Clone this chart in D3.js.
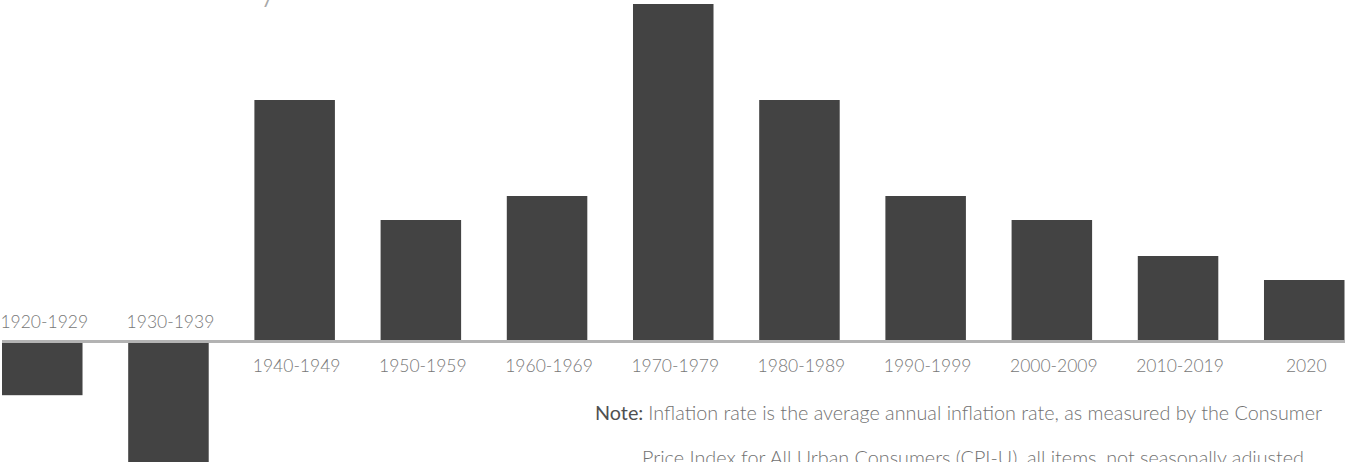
<!DOCTYPE html>
<html>
<head>
<meta charset="utf-8">
<script src="https://cdn.jsdelivr.net/npm/d3@7"></script>
<style>
  html, body { margin: 0; padding: 0; background: #fff; overflow: hidden; }
  svg { display: block; font-family: Lato, "Open Sans", sans-serif; }
</style>
</head>
<body>
<svg id="chart" width="1345" height="462"></svg>
<script>
// average annual inflation rate (%) by decade
const decades = ['1920-1929', '1930-1939', '1940-1949', '1950-1959', '1960-1969',
  '1970-1979', '1980-1989', '1990-1999', '2000-2009', '2010-2019', '2020'];
const rates = [-1.15, -2.8, 5.0, 2.5, 3.0, 7.0, 5.0, 3.0, 2.5, 1.75, 1.25];
const title = 'Inflation Rates by Decade';
const noteLines = [
  'Inflation rate is the average annual inflation rate, as measured by the Consumer',
  'Price Index for All Urban Consumers (CPI-U), all items, not seasonally adjusted.',
];

const width = 1345;
const svg = d3.select('#chart');

const x = d3.scaleBand()
  .domain(decades)
  .range([2, 1344.5])
  .paddingInner(0.362)
  .paddingOuter(0);

const y = d3.scaleLinear()
  .domain([-2.5, 7])
  .range([460, 4]);

// title sits mostly above the visible area
svg.append('text')
  .attr('x', 1)
  .attr('y', 0.2)
  .attr('font-size', 37)
  .attr('font-weight', 300)
  .attr('fill', '#a8a8a8')
  .text(title);

svg.append('g')
  .selectAll('rect')
  .data(rates)
  .join('rect')
  .attr('x', (d, i) => x(decades[i]))
  .attr('width', x.bandwidth())
  .attr('y', d => y(Math.max(0, d)))
  .attr('height', d => Math.abs(y(d) - y(0)))
  .attr('fill', '#434343');

// zero line
svg.append('line')
  .attr('x1', 2)
  .attr('x2', width)
  .attr('y1', y(0) + 1.5)
  .attr('y2', y(0) + 1.5)
  .attr('stroke', '#b3b3b3')
  .attr('stroke-width', 3);

// labels: above the line for negative bars, below for positive
svg.append('g')
  .selectAll('text')
  .data(rates)
  .join('text')
  .attr('x', (d, i) => x(decades[i]) + x.bandwidth() / 2 + 2)
  .attr('y', d => d < 0 ? y(0) - 12 : y(0) + 32)
  .attr('text-anchor', 'middle')
  .attr('font-size', 17.5)
  .attr('font-weight', 300)
  .attr('fill', '#777')
  .text((d, i) => decades[i]);

const note = svg.append('text')
  .attr('x', 595)
  .attr('y', 420)
  .attr('font-size', 19.8)
  .attr('font-weight', 300)
  .attr('fill', '#727272');
note.append('tspan')
  .attr('font-weight', 400)
  .attr('fill', '#505050')
  .text('Note: ');
note.append('tspan').text(noteLines[0]);

svg.append('text')
  .attr('x', 642)
  .attr('y', 465)
  .attr('font-size', 19.8)
  .attr('font-weight', 300)
  .attr('fill', '#727272')
  .text(noteLines[1]);
</script>
</body>
</html>
